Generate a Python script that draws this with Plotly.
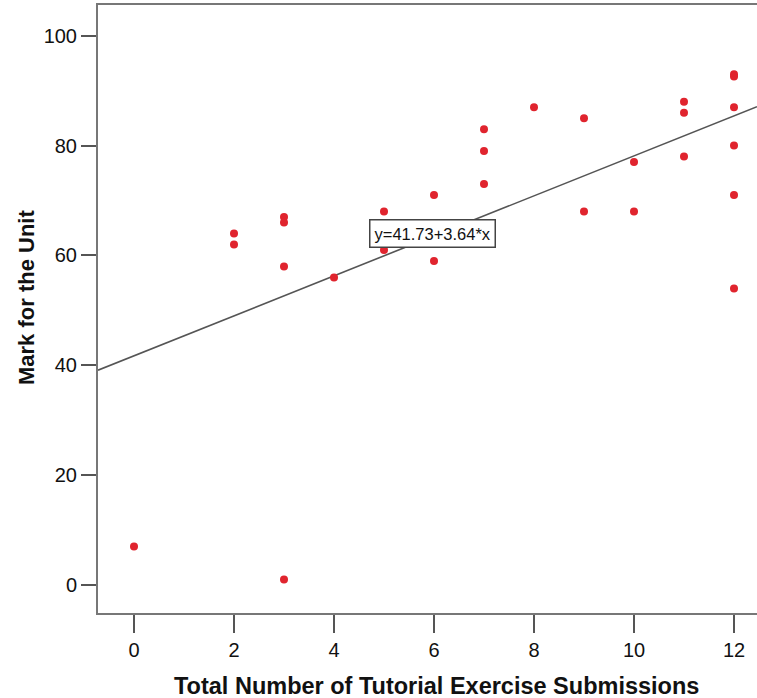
import plotly.graph_objects as go

# Tutorial submissions vs. unit mark
submissions = [0, 2, 2, 3, 3, 3, 3, 4, 5, 5, 6, 6, 7, 7, 7, 8, 9, 9, 10, 10,
               11, 11, 11, 12, 12, 12, 12, 12, 12]
marks = [7, 64, 62, 67, 66, 58, 1, 56, 68, 61, 71, 59, 83, 79, 73, 87, 85, 68, 77, 68,
         88, 86, 78, 93, 92.6, 87, 80, 71, 54]

intercept = 41.73
slope = 3.64
x_range = [-0.72, 12.46]
y_range = [-5.1, 105.6]
x_ticks = [0, 2, 4, 6, 8, 10, 12]
y_ticks = [0, 20, 40, 60, 80, 100]

fit_x = x_range
fit_y = [intercept + slope * v for v in fit_x]

FONT = "Liberation Sans, Arial, sans-serif"
W, H = 757, 698
L, R, T, B = 98, 0, 5, 85
pw, ph = W - L - R, H - T - B

fig = go.Figure()
fig.add_trace(go.Scatter(x=fit_x, y=fit_y, mode="lines",
                         line=dict(color="#555555", width=1.6),
                         hoverinfo="skip", showlegend=False))
fig.add_trace(go.Scatter(x=submissions, y=marks, mode="markers",
                         marker=dict(color="#e0242e", size=8),
                         showlegend=False))

# regression equation label
fig.add_annotation(x=5.96, y=64.0, text="y=41.73+3.64*x", showarrow=False,
                   font=dict(family=FONT, size=16.5, color="#111111"),
                   bgcolor="white", bordercolor="#444444", borderwidth=1.5, borderpad=4)

# axis titles
fig.add_annotation(x=(436 - L) / pw, y=-(686 - (H - B)) / ph, xref="paper", yref="paper",
                   text="<b>Total Number of Tutorial Exercise Submissions</b>",
                   showarrow=False, xanchor="center", yanchor="middle", borderpad=0,
                   font=dict(family=FONT, size=23.5, color="#111111"))
fig.add_annotation(x=(26 - L) / pw, y=((H - B) - 298) / ph, xref="paper", yref="paper",
                   text="<b>Mark for the Unit</b>", showarrow=False, textangle=-90,
                   xanchor="center", yanchor="middle",
                   font=dict(family=FONT, size=22, color="#111111"))

fig.update_layout(
    width=W, height=H,
    margin=dict(l=L, r=R, t=T, b=B),
    plot_bgcolor="white", paper_bgcolor="white",
    font=dict(family=FONT, size=20, color="#111111"),
)
fig.update_xaxes(range=x_range, tickvals=x_ticks, showgrid=False, zeroline=False,
                 showline=True, linecolor="#777777", linewidth=2, mirror=True,
                 ticks="outside", ticklen=18, tickwidth=2, tickcolor="#555555",
                 tickfont=dict(family=FONT, size=20, color="#111111"))
fig.update_yaxes(range=y_range, tickvals=y_ticks, showgrid=False, zeroline=False,
                 showline=True, linecolor="#777777", linewidth=2,
                 ticks="outside", ticklen=15, tickwidth=2, tickcolor="#555555",
                 tickfont=dict(family=FONT, size=20, color="#111111"))

fig.write_html("out.html", config={"displayModeBar": False})
